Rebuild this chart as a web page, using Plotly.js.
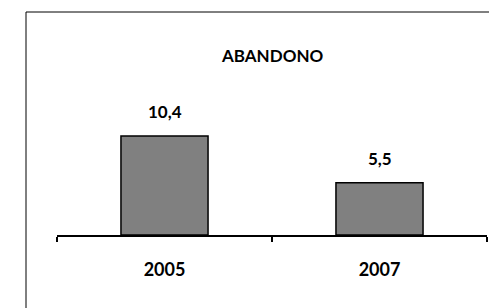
<!DOCTYPE html>
<html><head><meta charset="utf-8">
<script src="https://cdn.plot.ly/plotly-3.0.1.min.js"></script>
<style>html,body{margin:0;padding:0;background:#fff;}#c{width:489px;height:308px;}</style>
</head><body><div id="c"></div>
<script>
var categories = ['2005', '2007'];
var values = [10.4, 5.5];
var chartTitle = 'ABANDONO';

var fontFam = 'Lato, Open Sans, Liberation Sans, sans-serif';
var trace = {
  type: 'bar', x: categories, y: values, width: 0.405,
  marker: {color: '#808080', line: {color: '#000', width: 1.5}},
  hoverinfo: 'none'
};
var annotations = categories.map(function(c, i){
  return {x: i, y: values[i], xref: 'x', yref: 'y', yanchor: 'bottom', yshift: 12,
    text: '<b>' + values[i].toFixed(1).replace('.', ',') + '</b>', showarrow: false,
    font: {family: fontFam, size: 17, color: '#000'}};
});
annotations.push({xref: 'paper', yref: 'paper', x: 0.5, y: (235-55)/175, text: '<b>' + chartTitle + '</b>',
  showarrow: false, xanchor: 'center', yanchor: 'middle', font: {family: fontFam, size: 17, color: '#000'}});
var layout = {
  width: 489, height: 308,
  margin: {l: 57, r: 2, t: 60, b: 73},
  paper_bgcolor: '#fff', plot_bgcolor: 'rgba(0,0,0,0)',
  showlegend: false,
  xaxis: {type: 'category', range: [-0.5, 1.5], autorange: false, showline: true, linecolor: '#000', linewidth: 1.5,
    ticks: 'outside', tickson: 'boundaries', ticklen: 5, tickwidth: 1.5, tickcolor: '#000',
    tickangle: 0, ticklabelstandoff: 18,
    tickfont: {family: fontFam, size: 18, color: '#000'}, ticktext: categories.map(function(c){return '<b>'+c+'</b>';}),
    tickvals: categories, tickmode: 'array',
    showgrid: false, zeroline: false, fixedrange: true},
  yaxis: {range: [0, 18.4], autorange: false, visible: false, showgrid: false, zeroline: false, fixedrange: true},
  annotations: annotations,
  shapes: [
    {type: 'line', xref: 'paper', yref: 'paper', x0: (26-57)/430, x1: 1.1, y0: (235-12)/175, y1: (235-12)/175, line: {color: '#000', width: 1}},
    {type: 'line', xref: 'paper', yref: 'paper', x0: (26-57)/430, x1: (26-57)/430, y0: (235-12)/175, y1: -0.6, line: {color: '#000', width: 1}}
  ]
};
Plotly.newPlot('c', [trace], layout, {staticPlot: true, displayModeBar: false});
</script></body></html>
